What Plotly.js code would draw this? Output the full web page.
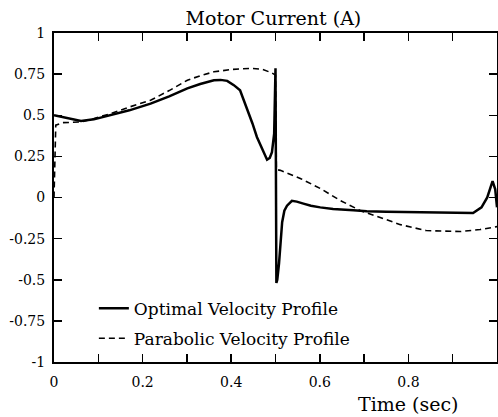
<!DOCTYPE html>
<html>
<head>
<meta charset="utf-8">
<script src="https://cdn.plot.ly/plotly-3.0.1.min.js"></script>
<style>html,body{margin:0;padding:0;background:#fff;}#chart{width:498px;height:417px;}</style>
</head>
<body>
<div id="chart"></div>
<script>
// Optimal velocity profile (solid)
const optTime = [0, 0.02, 0.04, 0.061, 0.09, 0.128, 0.17, 0.218, 0.26, 0.301, 0.33, 0.361, 0.376, 0.391, 0.406, 0.42, 0.436, 0.448, 0.458, 0.47, 0.481, 0.487, 0.492, 0.497, 0.5, 0.502, 0.504, 0.508, 0.511, 0.515, 0.52, 0.526, 0.537, 0.548, 0.563, 0.58, 0.601, 0.63, 0.676, 0.706, 0.75, 0.8, 0.85, 0.9, 0.946, 0.965, 0.978, 0.99, 0.996, 1.0];
const optCurrent = [0.5, 0.49, 0.48, 0.465, 0.475, 0.5, 0.53, 0.571, 0.615, 0.663, 0.69, 0.713, 0.715, 0.709, 0.683, 0.652, 0.54, 0.45, 0.368, 0.29, 0.23, 0.24, 0.276, 0.388, 0.786, -0.52, -0.5, -0.4, -0.3, -0.15, -0.08, -0.05, -0.02, -0.025, -0.037, -0.05, -0.06, -0.07, -0.077, -0.083, -0.086, -0.088, -0.09, -0.092, -0.094, -0.06, 0.0, 0.1, 0.05, -0.06];

// Parabolic velocity profile (dashed)
const parTime = [0, 0.004, 0.02, 0.061, 0.09, 0.128, 0.17, 0.218, 0.26, 0.301, 0.33, 0.361, 0.4, 0.444, 0.47, 0.481, 0.492, 0.5, 0.502, 0.511, 0.556, 0.601, 0.646, 0.691, 0.736, 0.782, 0.84, 0.917, 0.962, 1.0];
const parCurrent = [0, 0.44, 0.455, 0.459, 0.48, 0.51, 0.55, 0.591, 0.65, 0.713, 0.74, 0.764, 0.778, 0.785, 0.78, 0.77, 0.757, 0.744, 0.17, 0.165, 0.116, 0.055, -0.018, -0.079, -0.122, -0.165, -0.201, -0.207, -0.195, -0.177];

const xTickVals = [0, 0.1, 0.2, 0.3, 0.4, 0.5, 0.6, 0.7, 0.8, 0.9, 1];
const xTickText = ['0', '', '0.2', '', '0.4', '', '0.6', '', '0.8', '', '1'];
const yTickVals = [-1, -0.75, -0.5, -0.25, 0, 0.25, 0.5, 0.75, 1];
const yTickText = ['-1', '-0.75', '-0.5', '-0.25', '0', '0.25', '0.5', '0.75', '1'];

const FONT = 'DejaVu Serif, Liberation Serif, serif';

const traces = [
  {x: optTime, y: optCurrent, type: 'scatter', mode: 'lines', name: 'Optimal Velocity Profile',
   legendgroup: 'a', line: {color: '#000', width: 2.5}},
  {x: parTime, y: parCurrent, type: 'scatter', mode: 'lines', name: 'Parabolic Velocity Profile',
   legendgroup: 'b', line: {color: '#000', width: 1.6, dash: '6px,4px'}}
];

const axisCommon = {
  showline: true, linecolor: '#000', linewidth: 2, mirror: 'ticks',
  ticks: 'inside', ticklen: 8, tickwidth: 1.5, tickcolor: '#000',
  showgrid: false, zeroline: false,
  tickfont: {family: FONT, size: 14, color: '#000'}
};

const layout = {
  width: 498, height: 417,
  margin: {l: 54, r: 1, t: 33, b: 55},
  paper_bgcolor: '#fff', plot_bgcolor: '#fff',
  title: {text: 'Motor Current (A)', font: {family: FONT, size: 19, color: '#000'},
          x: 0.549, xref: 'container', xanchor: 'center', y: 0.956, yref: 'container', yanchor: 'middle'},
  xaxis: Object.assign({}, axisCommon, {range: [0, 1], tickvals: xTickVals, ticktext: xTickText, ticklabelstandoff: 6}),
  yaxis: Object.assign({}, axisCommon, {range: [-1, 1], tickvals: yTickVals, ticktext: yTickText, ticklabelstandoff: 4}),
  showlegend: true,
  legend: {x: 0.09, xanchor: 'left', y: 0.217, yanchor: 'top', bgcolor: 'rgba(0,0,0,0)',
           traceorder: 'grouped', tracegroupgap: 5,
           font: {family: FONT, size: 17, color: '#000'}},
  annotations: [
    {text: 'Time (sec)', xref: 'paper', yref: 'paper', x: 0.8, y: -0.128, xanchor: 'center', yanchor: 'middle',
     borderpad: 0, showarrow: false, font: {family: FONT, size: 19, color: '#000'}}
  ]
};

Plotly.newPlot('chart', traces, layout, {displayModeBar: false, staticPlot: true});
</script>
</body>
</html>
